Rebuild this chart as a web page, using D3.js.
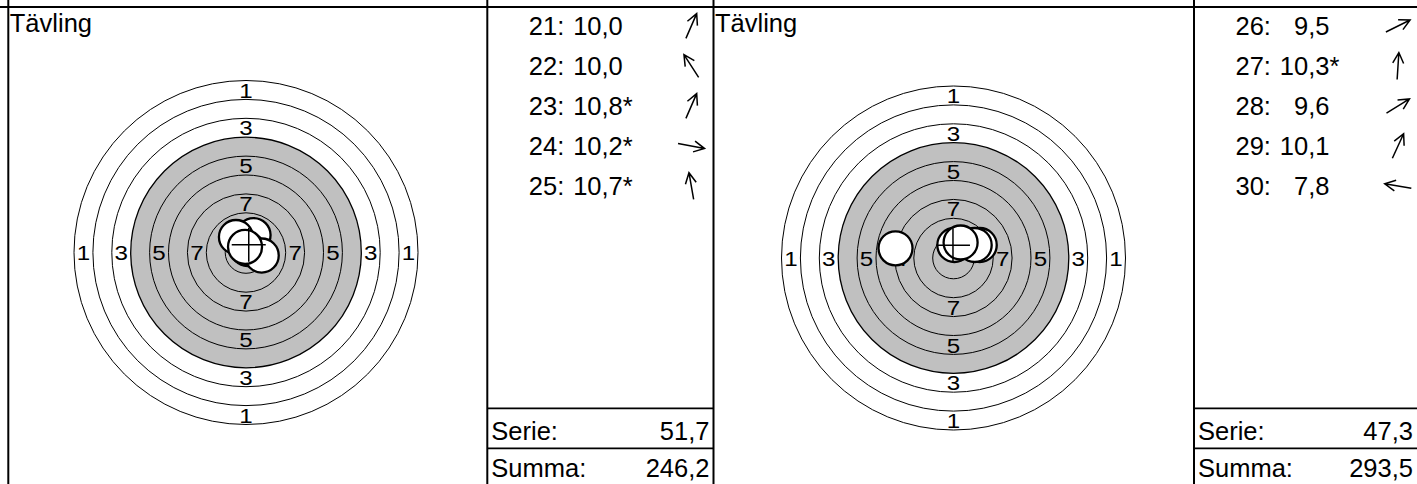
<!DOCTYPE html>
<html><head><meta charset="utf-8">
<script src="https://cdn.jsdelivr.net/npm/d3@7"></script>
<style>
html,body{margin:0;padding:0;background:#fff;}
svg{display:block;}
text{font-family:"Liberation Sans",Arial,Helvetica,sans-serif;fill:#000;}
</style></head>
<body>
<script>
// ---------- data ----------
const panelTitles = ["Tävling", "Tävling"];
// ISSF 10 m air rifle ring diameters (mm), rings 1..10
const ringValues = [1,2,3,4,5,6,7,8,9,10];
const ringDiameters = [45.5,40.5,35.5,30.5,25.5,20.5,15.5,10.5,5.5,0.5];
const ringLabels = [1,3,5,7];
const blackFromRing = 4;
const pelletDiameter = 4.5;

// series 1
const shotNumbers1 = [21,22,23,24,25];
const shotScores1  = [10.0,10.0,10.8,10.2,10.7];
const shotInner1   = [false,false,true,true,true];
const shotX1 = [1.00,-1.33,0.20,2.08,-0.13];   // mm, right +
const shotY1 = [2.30, 2.05,0.46,-0.40,0.74];   // mm, up +
// series 2
const shotNumbers2 = [26,27,28,29,30];
const shotScores2  = [9.5,10.3,9.6,10.1,7.8];
const shotInner2   = [false,true,false,false,false];
const shotX2 = [3.47,0.11,2.80,0.94,-7.67];
const shotY2 = [1.72,1.72,1.72,2.05,1.28];

const serieLabel = "Serie:";
const summaLabel = "Summa:";
const summaValues = [246.2, 293.5];

// ---------- layout ----------
const W = 1417, H = 484;
const topY = 7;
const panels = [
  {x0: 8.3,  cx: 246,   cy: 252.5, lx0: 487.3, lx1: 713.5,
   nums: shotNumbers1, scores: shotScores1, inner: shotInner1, xs: shotX1, ys: shotY1, summa: summaValues[0]},
  {x0: 713.5, cx: 953.5, cy: 258,  lx0: 1194,  lx1: 1417,
   nums: shotNumbers2, scores: shotScores2, inner: shotInner2, xs: shotX2, ys: shotY2, summa: summaValues[1]}
];
const R = 172; // px for outer ring radius
const fs = 25.5;
const loc = d3.formatLocale({decimal: ",", thousands: "\u00a0", grouping: [3], currency: ["", ""]});
const f1 = loc.format(".1f");

const svg = d3.select("body").append("svg").attr("width", W).attr("height", H);

panels.forEach((p, pi) => {
  const outerR = ringDiameters[0] / 2;
  const sx = d3.scaleLinear().domain([-outerR, outerR]).range([p.cx - R, p.cx + R]);
  const sy = d3.scaleLinear().domain([-outerR, outerR]).range([p.cy + R, p.cy - R]);
  const sr = d3.scaleLinear().domain([0, outerR]).range([0, R]);

  const g = svg.append("g");
  // title
  g.append("text").attr("x", p.x0 + 1.5).attr("y", 32).attr("font-size", fs).text(panelTitles[pi]);

  // black (gray) area
  const bi = ringValues.indexOf(blackFromRing);
  g.append("circle").attr("cx", sx(0)).attr("cy", sy(0)).attr("r", sr(ringDiameters[bi] / 2))
    .attr("fill", "#c0c0c0");
  // ring lines
  g.selectAll("circle.ring").data(ringDiameters).join("circle").attr("class", "ring")
    .attr("cx", sx(0)).attr("cy", sy(0)).attr("r", d => sr(d / 2))
    .attr("fill", (d, i) => i === ringDiameters.length - 1 ? "#fff" : "none")
    .attr("stroke", "#000").attr("stroke-width", (d, i) => ringValues[i] === blackFromRing ? 1.3 : 1);

  // ring labels
  const labs = [];
  ringLabels.forEach(v => {
    const i = ringValues.indexOf(v);
    const mid = (ringDiameters[i] + ringDiameters[i + 1]) / 4;
    [[0, mid], [0, -mid], [-mid, 0], [mid, 0]].forEach(([dx, dy]) => labs.push({v, dx, dy}));
  });
  const lfs = 21;
  g.selectAll("text.lab").data(labs).join("text").attr("class", "lab")
    .attr("transform", d => `translate(${sx(d.dx)},${sy(d.dy) + lfs * 0.36}) scale(1.15,1)`)
    .attr("text-anchor", "middle").attr("font-size", lfs).text(d => d.v);

  // shots
  const shots = p.nums.map((n, i) => ({n, s: p.scores[i], inner: p.inner[i], x: p.xs[i], y: p.ys[i]}));
  g.selectAll("circle.shot").data(shots).join("circle").attr("class", "shot")
    .attr("cx", d => sx(d.x)).attr("cy", d => sy(d.y)).attr("r", sr(pelletDiameter / 2))
    .attr("fill", "#fff").attr("stroke", "#000").attr("stroke-width", 2.3);

  // mean point of impact crosshair
  const mx = d3.mean(shots, d => d.x), my = d3.mean(shots, d => d.y);
  const arm = pelletDiameter / 2;
  g.append("line").attr("x1", sx(mx - arm)).attr("x2", sx(mx + arm)).attr("y1", sy(my)).attr("y2", sy(my))
    .attr("stroke", "#000").attr("stroke-width", 1.5);
  g.append("line").attr("x1", sx(mx)).attr("x2", sx(mx)).attr("y1", sy(my - arm)).attr("y2", sy(my + arm))
    .attr("stroke", "#000").attr("stroke-width", 1.5);

  // shot list
  const rowY = d3.scalePoint().domain(shots.map(d => d.n)).range([35, 195]);
  const rows = g.selectAll("g.row").data(shots).join("g").attr("class", "row");
  rows.append("text").attr("x", p.lx0 + 41.5).attr("y", d => rowY(d.n)).attr("font-size", fs).text(d => d.n + ":");
  rows.append("text").attr("x", p.lx0 + 135.5).attr("y", d => rowY(d.n)).attr("font-size", fs)
    .attr("text-anchor", "end").text(d => f1(d.s));
  rows.append("text").attr("x", p.lx0 + 135.5).attr("y", d => rowY(d.n)).attr("font-size", fs)
    .text(d => d.inner ? "*" : "");
  // direction arrows
  const half = 13.5, head = 12, ha = 27 * Math.PI / 180;
  rows.each(function (d) {
    const th = Math.atan2(d.y, d.x);
    const cx = p.lx0 + 204, cy = rowY(d.n) - 9;
    const ux = Math.cos(th), uy = -Math.sin(th);
    const tx = cx + ux * half, ty = cy + uy * half;
    const bx = -ux, by = -uy;
    const rot = (a) => [bx * Math.cos(a) - by * Math.sin(a), bx * Math.sin(a) + by * Math.cos(a)];
    const [h1x, h1y] = rot(ha), [h2x, h2y] = rot(-ha);
    const path = d3.path();
    path.moveTo(cx - ux * half, cy - uy * half); path.lineTo(tx, ty);
    path.moveTo(tx + h1x * head, ty + h1y * head); path.lineTo(tx, ty); path.lineTo(tx + h2x * head, ty + h2y * head);
    d3.select(this).append("path").attr("d", path.toString()).attr("fill", "none")
      .attr("stroke", "#000").attr("stroke-width", 1.5).attr("stroke-linejoin", "miter");
  });

  // totals
  g.append("text").attr("x", p.lx0 + 4).attr("y", 439.5).attr("font-size", fs).text(serieLabel);
  g.append("text").attr("x", p.lx1 - 4).attr("y", 439.5).attr("font-size", fs).attr("text-anchor", "end")
    .text(f1(d3.sum(shots, d => d.s)));
  g.append("text").attr("x", p.lx0 + 4).attr("y", 477).attr("font-size", fs).text(summaLabel);
  g.append("text").attr("x", p.lx1 - 4).attr("y", 477).attr("font-size", fs).attr("text-anchor", "end")
    .text(f1(p.summa));

  // list grid lines
  [408.3, 448.3].forEach(yy => g.append("line").attr("x1", p.lx0).attr("x2", pi === 0 ? p.lx1 : W)
    .attr("y1", yy).attr("y2", yy).attr("stroke", "#000").attr("stroke-width", 1.8));
});

// table grid
svg.append("line").attr("x1", 0).attr("x2", W).attr("y1", topY).attr("y2", topY)
  .attr("stroke", "#000").attr("stroke-width", 2);
[8.3, 487.3, 713.5, 1194].forEach(xx => svg.append("line").attr("x1", xx).attr("x2", xx)
  .attr("y1", 0).attr("y2", H).attr("stroke", "#000").attr("stroke-width", 2));
</script>
</body></html>
